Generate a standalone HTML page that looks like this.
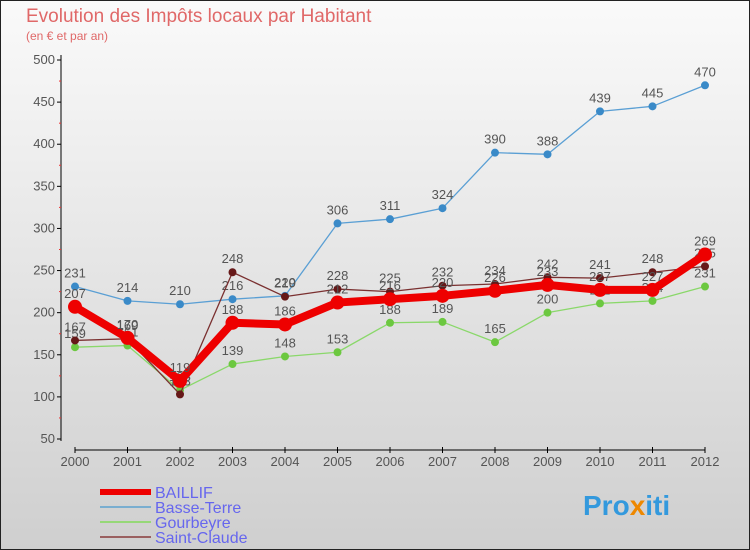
<!DOCTYPE html>
<html><head><meta charset="utf-8"><style>
body{margin:0}
svg{display:block;font-family:"Liberation Sans","DejaVu Sans",sans-serif}
</style></head><body>
<svg id="c" width="750" height="550" xmlns="http://www.w3.org/2000/svg">
<defs><linearGradient id="bg" x1="0" y1="0" x2="0" y2="1"><stop offset="0" stop-color="#fafafa"/><stop offset="1" stop-color="#cfcfcf"/></linearGradient></defs>
<rect x="0.5" y="0.5" width="749" height="549" fill="url(#bg)" stroke="#222"/>
<text x="26" y="22" font-size="19" fill="#e06868">Evolution des Impôts locaux par Habitant</text>
<text x="26" y="40" font-size="12" fill="#e06868">(en € et par an)</text>
<g id="axes"></g><g id="series"></g><g id="legend"></g>
<text x="583" y="515" font-size="28" font-weight="bold" fill="#3399dd">Pro<tspan fill="#ee8800">x</tspan>iti</text>
</svg>
<script>
const years=[2000,2001,2002,2003,2004,2005,2006,2007,2008,2009,2010,2011,2012];
const yTicks=[50,100,150,200,250,300,350,400,450,500];
const baillif=[207,170,119,188,186,212,216,220,226,233,227,227,269];
const basseTerre=[231,214,210,216,220,306,311,324,390,388,439,445,470];
const gourbeyre=[159,161,108,139,148,153,188,189,165,200,211,214,231];
const saintClaude=[167,169,103,248,219,228,225,232,234,242,241,248,255];
const NS="http://www.w3.org/2000/svg";
const xs=i=>75+i*52.5;
const ys=v=>60+(500-v)*(379/450);
function mk(t,a,p){const e=document.createElementNS(NS,t);for(const k in a)e.setAttribute(k,a[k]);p.appendChild(e);return e;}
const ax=document.getElementById('axes');
let e=mk('line',{x1:61,y1:55,x2:61,y2:441,stroke:'#000'},ax);


e=mk('line',{x1:75,y1:450,x2:705,y2:450,stroke:'#000'},ax);


yTicks.forEach(v=>{const y=ys(v);
mk('line',{x1:57,y1:y,x2:61,y2:y,stroke:'#000'},ax);
if(v<500)mk('line',{x1:59,y1:ys(v+25),x2:61,y2:ys(v+25),stroke:'#e33'},ax);
const t=mk('text',{x:55,y:y+4,'font-size':13,'text-anchor':'end',fill:'#555'},ax);t.textContent=v;

});
years.forEach((yr,i)=>{const x=xs(i);
mk('line',{x1:x,y1:447,x2:x,y2:453,stroke:'#000'},ax);
const t=mk('text',{x:x,y:466,'font-size':13,'text-anchor':'middle',fill:'#555'},ax);t.textContent=yr;

});
const sg=document.getElementById('series');
function draw(name,data,color,w,r,dot){
const g=mk('g',{},sg);


const l=mk('polyline',{points:data.map((v,i)=>xs(i)+','+ys(v)).join(' '),fill:'none',stroke:color,'stroke-width':w,'stroke-linejoin':'round'},g);


data.forEach((v,i)=>{const c=mk('circle',{cx:xs(i),cy:ys(v),r:r,fill:dot},g);


const t=mk('text',{x:xs(i),y:ys(v)-9,'font-size':13,'text-anchor':'middle',fill:'#555'},g);t.textContent=v;

});}
draw('basse-terre',basseTerre,'#5a9fd4',1.3,4,'#3a8ac8');
draw('gourbeyre',gourbeyre,'#8ad86a',1.3,4,'#6cc840');
draw('saint-claude',saintClaude,'#7a3030',1.3,4,'#661818');
draw('baillif',baillif,'#ee0000',8,7,'#ee0000');
const lg=document.getElementById('legend');
[['BAILLIF','#ee0000',6],['Basse-Terre','#7aaed0',2],['Gourbeyre','#96d878',2],['Saint-Claude','#9a6060',2]].forEach((d,i)=>{
const y=492+i*15;
const l=mk('line',{x1:100,y1:y,x2:151,y2:y,stroke:d[1],'stroke-width':d[2]},lg);


const t=mk('text',{x:155,y:y+6,'font-size':16,fill:'#6666ee'},lg);t.textContent=d[0];

});
</script>
</body></html>
